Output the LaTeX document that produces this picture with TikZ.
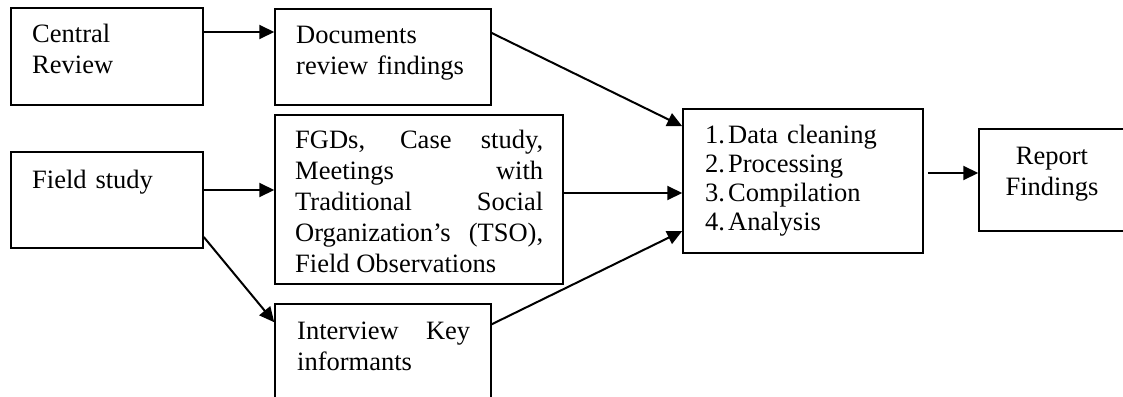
\documentclass[tikz,border=0pt]{standalone}
\usepackage{fontspec}
\setmainfont{Liberation Serif}
\usetikzlibrary{arrows.meta,positioning,calc}

\begin{document}
\begin{tikzpicture}[x=1pt, y=-1pt,
  box/.style={draw, line width=1.5pt, inner sep=0pt},
  txt/.style={inner sep=0pt, anchor=base west, align=left, text width=#1,
              font=\fontsize{26.5}{31}\selectfont},
  arr/.style={-{Triangle[length=15pt,width=14pt]}, line width=2pt}
]
  \clip (0,0) rectangle (1123,396);

  % boxes
  \node[box, minimum width=192, minimum height=97]  (central)   at (107, 56.5)  {};
  \node[box, minimum width=216, minimum height=96]  (docs)      at (383, 57)    {};
  \node[box, minimum width=288, minimum height=169] (fgd)       at (419, 199.5) {};
  \node[box, minimum width=192, minimum height=96]  (field)     at (107, 200)   {};
  \node[box, minimum width=216, minimum height=110] (interview) at (383, 359)   {};
  \node[box, minimum width=240, minimum height=144] (data)      at (803, 181)   {};
  \node[box, minimum width=146, minimum height=102] (report)    at (1052, 180)  {};

  % texts
  \node[txt=160] (centralT) at (32, 43)  {Central\\Review};
  \node[txt=185] (docsT)    at (296, 44) {Documents\\review findings};
  \node[txt=248, align=justify] (fgdT) at (295, 148)
    {FGDs, Case study,\linebreak Meetings with\linebreak Traditional Social\linebreak
     Organization’s (TSO),\linebreak Field Observations};
  \node[txt=160] (fieldT)   at (32, 188) {Field study};
  \node[txt=173, align=justify] (interviewT) at (297, 339)
    {Interview Key\linebreak informants};
  \node[txt=200, font=\fontsize{26.5}{29.2}\selectfont] (dataT) at (705, 143)
    {\makebox[23pt][l]{1.}Data cleaning\\\makebox[23pt][l]{2.}Processing\\
     \makebox[23pt][l]{3.}Compilation\\\makebox[23pt][l]{4.}Analysis};
  \node[txt=140, anchor=base, align=center] (reportT) at (1052, 164) {Report\\Findings};

  % connectors
  \draw[arr] ([yshift=24.5pt]central.east) -- ([yshift=25pt]docs.west);
  \draw[arr] ([yshift=10pt]field.east) -- ([yshift=9.5pt]fgd.west);
  \draw[arr] ([yshift=-37pt]field.east) -- ([yshift=-19pt]interview.north west);
  \draw[arr] ([yshift=24pt]docs.east) -- ([yshift=-18pt]data.north west);
  \draw[arr] ([yshift=6.5pt]fgd.east) -- ([yshift=-12pt]data.west);
  \draw[arr] ([yshift=-21pt]interview.north east) -- ([yshift=-50pt]data.west);
  \draw[arr] ([xshift=4pt,yshift=8pt]data.east) -- ([yshift=7pt]report.west);
\end{tikzpicture}
\end{document}
